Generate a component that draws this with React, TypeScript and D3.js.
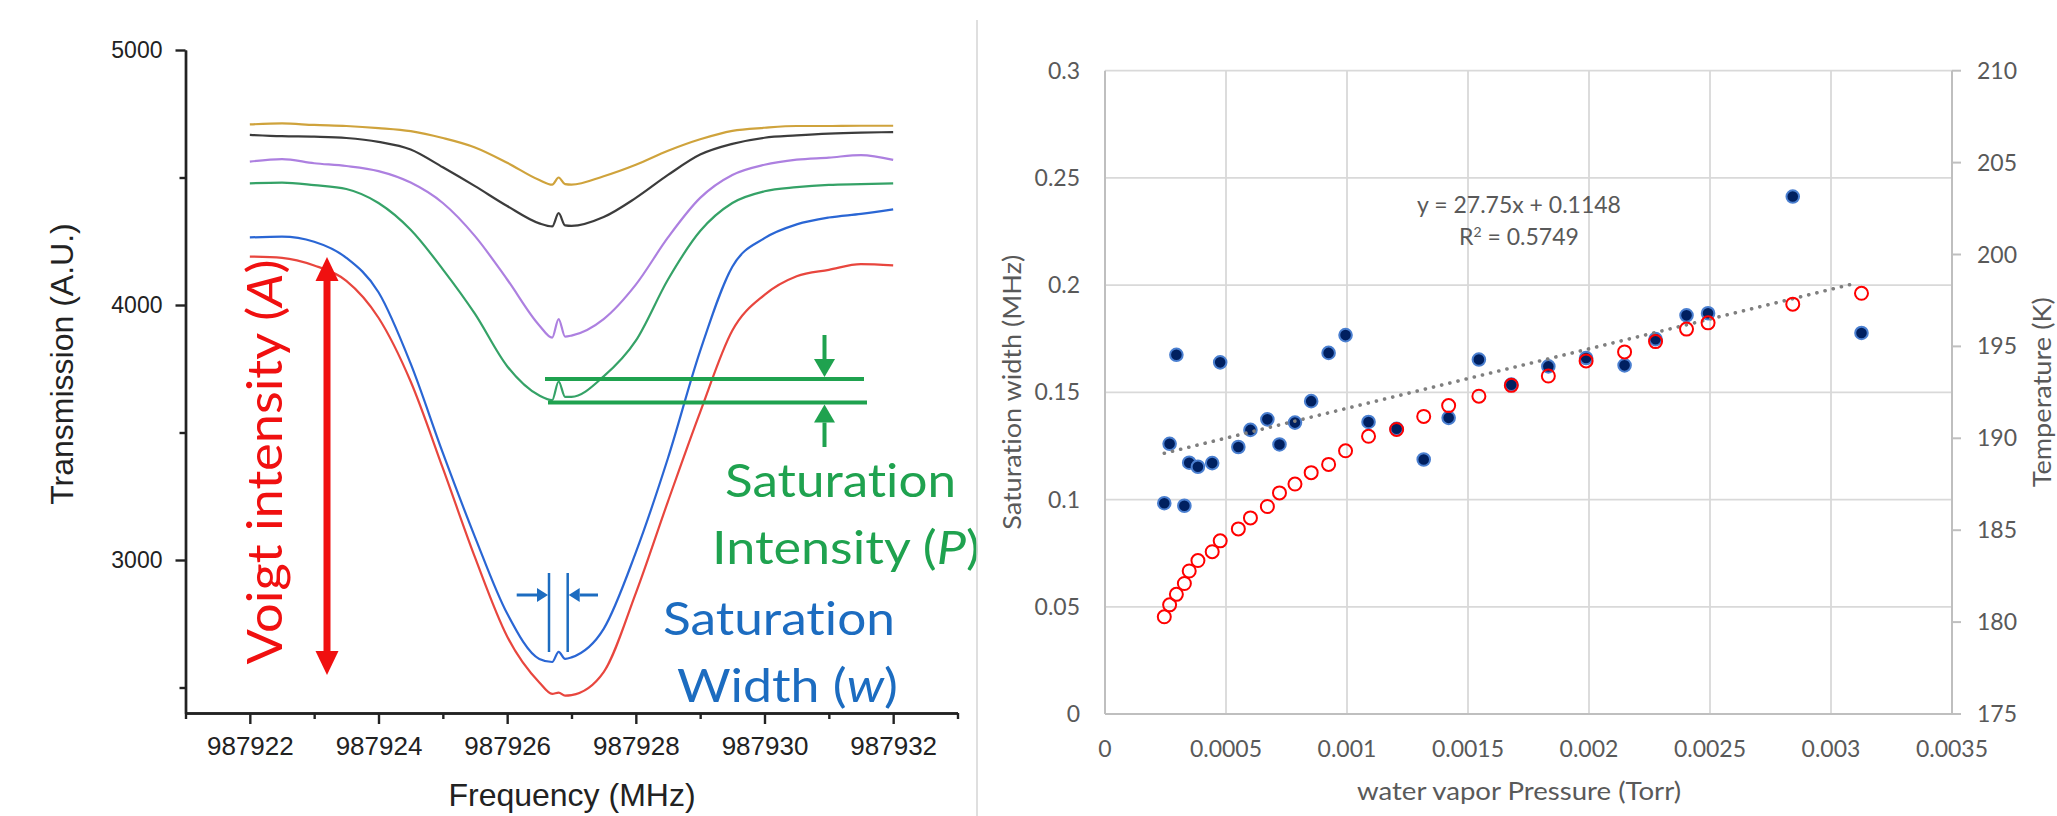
import * as d3 from "d3";
import { useEffect, useRef } from "react";

const W = 2057;
const H = 816;

// ---- left panel: transmission spectra ----
const FREQ = [
  987922, 987922.5, 987923, 987923.5, 987924, 987924.5, 987925, 987925.5, 987926, 987926.5,
  987926.7, 987926.8, 987926.9, 987927, 987927.5, 987928, 987928.5, 987929, 987929.5, 987930,
  987930.5, 987931, 987931.5, 987932,
];
const YELLOW = [4708, 4712, 4706, 4702, 4694, 4682, 4655, 4618, 4558, 4490, 4472, 4500, 4474, 4472, 4505, 4550, 4605, 4650, 4683, 4695, 4702, 4702, 4703, 4703];
const BLACK = [4667, 4662, 4660, 4655, 4640, 4610, 4540, 4466, 4388, 4320, 4308, 4360, 4312, 4310, 4345, 4420, 4510, 4590, 4632, 4656, 4665, 4672, 4676, 4678];
const PURPLE = [4562, 4572, 4556, 4545, 4525, 4480, 4400, 4270, 4100, 3920, 3872, 3945, 3876, 3880, 3945, 4080, 4265, 4420, 4510, 4550, 4570, 4578, 4588, 4569];
const GREEN = [4477, 4480, 4470, 4455, 4400, 4295, 4140, 3965, 3760, 3645, 3627, 3700, 3640, 3640, 3720, 3860, 4100, 4290, 4400, 4446, 4462, 4471, 4474, 4477];
const BLUE = [4265, 4268, 4248, 4185, 4050, 3770, 3420, 3090, 2790, 2612, 2600, 2640, 2612, 2618, 2730, 3030, 3400, 3820, 4150, 4262, 4316, 4343, 4357, 4375];
const RED = [4190, 4185, 4155, 4095, 3950, 3700, 3360, 3010, 2700, 2520, 2475, 2480, 2468, 2470, 2560, 2870, 3230, 3580, 3900, 4040, 4113, 4138, 4160, 4155];

const SPECTRA = [
  { id: "yellow", color: "#cfa33c", values: YELLOW },
  { id: "black", color: "#3c3c3c", values: BLACK },
  { id: "purple", color: "#ad80e0", values: PURPLE },
  { id: "green", color: "#35a267", values: GREEN },
  { id: "blue", color: "#2a66d4", values: BLUE },
  { id: "red", color: "#e8463e", values: RED },
];

const FREQ_TICKS = [987922, 987924, 987926, 987928, 987930, 987932];
const FREQ_MINOR = [987921, 987923, 987925, 987927, 987929, 987931, 987933];
const TRANS_TICKS = [3000, 4000, 5000];
const TRANS_MINOR = [2500, 3500, 4500];

// ---- right panel: saturation width / temperature vs pressure ----
const PRESSURE = [
  0.000245, 0.000267, 0.000295, 0.000328, 0.000348, 0.000384, 0.000443, 0.000476, 0.000551, 0.000601,
  0.000671, 0.000721, 0.000785, 0.000852, 0.000924, 0.000994, 0.001089, 0.001205, 0.001317, 0.00142,
  0.001545, 0.001679, 0.001832, 0.001988, 0.002147, 0.002275, 0.002403, 0.002492, 0.002842, 0.003126,
];
const SAT_WIDTH = [
  0.0983, 0.126, 0.1675, 0.0971, 0.1172, 0.1153, 0.117, 0.164, 0.1245, 0.1325,
  0.1374, 0.1257, 0.1359, 0.1459, 0.1684, 0.1767, 0.1362, 0.133, 0.1187, 0.1381,
  0.1653, 0.1536, 0.1621, 0.166, 0.1626, 0.1748, 0.1859, 0.1869, 0.2413, 0.1777,
];
const TEMPERATURE = [
  180.29, 180.94, 181.51, 182.1, 182.78, 183.35, 183.83, 184.42, 185.07, 185.67,
  186.29, 187.03, 187.51, 188.13, 188.58, 189.32, 190.11, 190.48, 191.19, 191.78,
  192.29, 192.88, 193.39, 194.21, 194.7, 195.26, 195.94, 196.28, 197.3, 197.89,
];
const P_TICKS = [0, 0.0005, 0.001, 0.0015, 0.002, 0.0025, 0.003, 0.0035];
const P_LABELS = ["0", "0.0005", "0.001", "0.0015", "0.002", "0.0025", "0.003", "0.0035"];
const W_TICKS = [0, 0.05, 0.1, 0.15, 0.2, 0.25, 0.3];
const W_LABELS = ["0", "0.05", "0.1", "0.15", "0.2", "0.25", "0.3"];
const T_TICKS = [175, 180, 185, 190, 195, 200, 205, 210];
const FIT_SLOPE = 27.75;
const FIT_INTERCEPT = 0.1148;

const xL = d3.scaleLinear().domain([987921, 987933]).range([185.5, 957.5]);
const yL = d3.scaleLinear().domain([2400, 5000]).range([713, 50]);

const xR = d3.scaleLinear().domain([0, 0.0035]).range([1105, 1952]);
const yR = d3.scaleLinear().domain([0, 0.3]).range([714, 70.7]);
const tR = d3.scaleLinear().domain([175, 210]).range([714, 70.7]);

const ARIAL = "'Liberation Sans', Arial, sans-serif";
const CALIBRI = "Lato, 'Open Sans', sans-serif";
const ANN_RED = "#f01010";
const ANN_GREEN = "#1fa24f";
const ANN_BLUE = "#1c6cc0";
const NO_LIG = { fontVariantLigatures: "none" } as const;

function Arrow({ x1, y1, x2, y2, color, shaft, head, headW }) {
  // arrow from (x1,y1) to tip (x2,y2)
  const ang = Math.atan2(y2 - y1, x2 - x1);
  const bx = x2 - head * Math.cos(ang);
  const by = y2 - head * Math.sin(ang);
  const px = (-Math.sin(ang) * headW) / 2;
  const py = (Math.cos(ang) * headW) / 2;
  return (
    <g>
      <line x1={x1} y1={y1} x2={bx} y2={by} stroke={color} strokeWidth={shaft} />
      <path d={`M${x2},${y2}L${bx + px},${by + py}L${bx - px},${by - py}Z`} fill={color} />
    </g>
  );
}

export default function App() {
  const xAxisRef = useRef<SVGGElement>(null);
  const xMinorRef = useRef<SVGGElement>(null);
  const yAxisRef = useRef<SVGGElement>(null);
  const yMinorRef = useRef<SVGGElement>(null);

  useEffect(() => {
    document.body.style.margin = "0";
    const style = (g) => {
      g.selectAll("path, line").attr("stroke", "#222").attr("stroke-width", 2.4);
      g.selectAll("text").attr("fill", "#222").attr("font-family", ARIAL);
    };
    d3.select(xAxisRef.current)
      .call(d3.axisBottom(xL).tickValues(FREQ_TICKS).tickSize(11).tickSizeOuter(0).tickPadding(13).tickFormat(d3.format("d")))
      .call(style)
      .call((g) => g.selectAll("text").attr("font-size", 26));
    d3.select(xMinorRef.current)
      .call(d3.axisBottom(xL).tickValues(FREQ_MINOR).tickSize(6).tickSizeOuter(0).tickFormat(() => ""))
      .call(style);
    d3.select(yAxisRef.current)
      .call(d3.axisLeft(yL).tickValues(TRANS_TICKS).tickSize(10).tickSizeOuter(0).tickPadding(13).tickFormat(d3.format("d")))
      .call(style)
      .call((g) => g.selectAll("text").attr("font-size", 23));
    d3.select(yMinorRef.current)
      .call(d3.axisLeft(yL).tickValues(TRANS_MINOR).tickSize(6).tickSizeOuter(0).tickFormat(() => ""))
      .call(style);
  }, []);

  const line = d3
    .line<number>()
    .x((_, i) => xL(FREQ[i]))
    .y((d) => yL(d))
    .curve(d3.curveMonotoneX);

  const fitX = d3.extent(PRESSURE) as [number, number];
  const midY = (yR.range()[0] + yR.range()[1]) / 2;

  return (
    <svg width={W} height={H} style={{ position: "absolute", left: 0, top: 0, background: "#fff" }}>
      <rect width={W} height={H} fill="#fff" />

      {/* ===== left panel ===== */}
      <g>
        {SPECTRA.map((s) => (
          <path key={s.id} d={line(s.values) || ""} fill="none" stroke={s.color} strokeWidth={2.2} />
        ))}
        <g ref={xMinorRef} transform={`translate(0,${yL(2400)})`} />
        <g ref={xAxisRef} transform={`translate(0,${yL(2400)})`} />
        <g ref={yMinorRef} transform={`translate(${xL(987921)},0)`} />
        <g ref={yAxisRef} transform={`translate(${xL(987921)},0)`} />

        <text transform="translate(73,364) rotate(-90)" textAnchor="middle" fontFamily={ARIAL} fontSize={32} fill="#222">
          Transmission (A.U.)
        </text>
        <text x={572} y={806} textAnchor="middle" fontFamily={ARIAL} fontSize={32} fill="#222">
          Frequency (MHz)
        </text>

        {/* Voigt intensity */}
        <Arrow x1={327} y1={466} x2={327} y2={257} color={ANN_RED} shaft={7} head={24} headW={23} />
        <Arrow x1={327} y1={466} x2={327} y2={675} color={ANN_RED} shaft={7} head={24} headW={23} />
        <text
          transform="translate(282,462) rotate(-90)"
          textAnchor="middle"
          fontFamily={CALIBRI}
          fontSize={49}
          fill={ANN_RED}
          textLength={405}
          lengthAdjust="spacingAndGlyphs"
          style={NO_LIG}
        >
          Voigt intensity (<tspan fontStyle="italic">A</tspan>)
        </text>

        {/* saturation intensity */}
        <line x1={545} y1={379} x2={864} y2={379} stroke={ANN_GREEN} strokeWidth={4} />
        <line x1={548} y1={402.5} x2={867} y2={402.5} stroke={ANN_GREEN} strokeWidth={4} />
        <Arrow x1={824.5} y1={335} x2={824.5} y2={377} color={ANN_GREEN} shaft={4} head={18} headW={21} />
        <Arrow x1={824.5} y1={447} x2={824.5} y2={404.5} color={ANN_GREEN} shaft={4} head={18} headW={21} />
        <text x={840.5} y={497} textAnchor="middle" fontFamily={CALIBRI} fontSize={47} fill={ANN_GREEN} textLength={231} lengthAdjust="spacingAndGlyphs" style={NO_LIG}>
          Saturation
        </text>
        <text x={846} y={564} textAnchor="middle" fontFamily={CALIBRI} fontSize={47} fill={ANN_GREEN} textLength={268} lengthAdjust="spacingAndGlyphs" style={NO_LIG}>
          Intensity (<tspan fontStyle="italic">P</tspan>)
        </text>

        {/* saturation width */}
        <line x1={549} y1={573} x2={549} y2={652} stroke={ANN_BLUE} strokeWidth={2.5} />
        <line x1={567.7} y1={573} x2={567.7} y2={652} stroke={ANN_BLUE} strokeWidth={2.5} />
        <Arrow x1={516.7} y1={595} x2={548} y2={595} color={ANN_BLUE} shaft={3} head={11} headW={14} />
        <Arrow x1={598} y1={595} x2={568.7} y2={595} color={ANN_BLUE} shaft={3} head={11} headW={14} />
        <text x={779} y={635} textAnchor="middle" fontFamily={CALIBRI} fontSize={47} fill={ANN_BLUE} textLength={232} lengthAdjust="spacingAndGlyphs" style={NO_LIG}>
          Saturation
        </text>
        <text x={787.5} y={702} textAnchor="middle" fontFamily={CALIBRI} fontSize={47} fill={ANN_BLUE} textLength={221} lengthAdjust="spacingAndGlyphs" style={NO_LIG}>
          Width (<tspan fontStyle="italic">w</tspan>)
        </text>
      </g>

      {/* separator */}
      <line x1={977} y1={20} x2={977} y2={H} stroke="#d4d4d4" strokeWidth={1.5} />

      {/* ===== right panel ===== */}
      <g fontFamily={CALIBRI} fill="#595959" style={NO_LIG}>
        {W_TICKS.slice(1).map((t) => (
          <line key={`gy${t}`} x1={xR(0)} x2={xR(0.0035)} y1={yR(t)} y2={yR(t)} stroke="#d9d9d9" strokeWidth={1.8} />
        ))}
        {P_TICKS.slice(1, -1).map((t) => (
          <line key={`gx${t}`} x1={xR(t)} x2={xR(t)} y1={yR(0)} y2={yR(0.3)} stroke="#d9d9d9" strokeWidth={1.8} />
        ))}
        <line x1={xR(0)} x2={xR(0)} y1={yR(0)} y2={yR(0.3)} stroke="#bfbfbf" strokeWidth={2} />
        <line x1={xR(0)} x2={xR(0.0035)} y1={yR(0)} y2={yR(0)} stroke="#bfbfbf" strokeWidth={2} />
        <line x1={xR(0.0035)} x2={xR(0.0035)} y1={tR(175)} y2={tR(210)} stroke="#bfbfbf" strokeWidth={2} />
        {T_TICKS.map((t) => (
          <line key={`tt${t}`} x1={xR(0.0035)} x2={xR(0.0035) + 9} y1={tR(t)} y2={tR(t)} stroke="#bfbfbf" strokeWidth={2} />
        ))}

        {W_TICKS.map((t, i) => (
          <text key={`wl${t}`} x={1080} y={yR(t)} dy="0.35em" textAnchor="end" fontSize={23}>
            {W_LABELS[i]}
          </text>
        ))}
        {T_TICKS.map((t) => (
          <text key={`tl${t}`} x={1977} y={tR(t)} dy="0.35em" textAnchor="start" fontSize={23}>
            {t}
          </text>
        ))}
        {P_TICKS.map((t, i) => (
          <text key={`pl${t}`} x={xR(t)} y={757} textAnchor="middle" fontSize={23}>
            {P_LABELS[i]}
          </text>
        ))}

        <text transform={`translate(1021,${midY}) rotate(-90)`} textAnchor="middle" fontSize={25} textLength={275} lengthAdjust="spacingAndGlyphs">
          Saturation width (MHz)
        </text>
        <text transform={`translate(2051,${midY}) rotate(-90)`} textAnchor="middle" fontSize={25} textLength={190} lengthAdjust="spacingAndGlyphs">
          Temperature (K)
        </text>
        <text x={1519} y={800} textAnchor="middle" fontSize={25} textLength={324} lengthAdjust="spacingAndGlyphs">
          water vapor Pressure (Torr)
        </text>

        <text x={1519} y={213} textAnchor="middle" fontSize={23}>
          y = 27.75x + 0.1148
        </text>
        <text x={1519} y={245} textAnchor="middle" fontSize={23}>
          R<tspan dy={-8} fontSize={14}>2</tspan>
          <tspan dy={8}> = 0.5749</tspan>
        </text>

        {PRESSURE.map((p, i) => (
          <circle key={`sw${i}`} cx={xR(p)} cy={yR(SAT_WIDTH[i])} r={6.3} fill="#002060" stroke="#4a7fd0" strokeWidth={2} />
        ))}
        <line
          x1={xR(fitX[0])}
          y1={yR(FIT_SLOPE * fitX[0] + FIT_INTERCEPT)}
          x2={xR(fitX[1] - 0.00002)}
          y2={yR(FIT_SLOPE * (fitX[1] - 0.00002) + FIT_INTERCEPT)}
          stroke="#7f7f7f"
          strokeWidth={3.6}
          strokeDasharray="0.1 8.3"
          strokeLinecap="round"
        />
        {PRESSURE.map((p, i) => (
          <circle key={`tc${i}`} cx={xR(p)} cy={tR(TEMPERATURE[i])} r={6.5} fill="none" stroke="#ff0000" strokeWidth={2} />
        ))}
      </g>
    </svg>
  );
}
